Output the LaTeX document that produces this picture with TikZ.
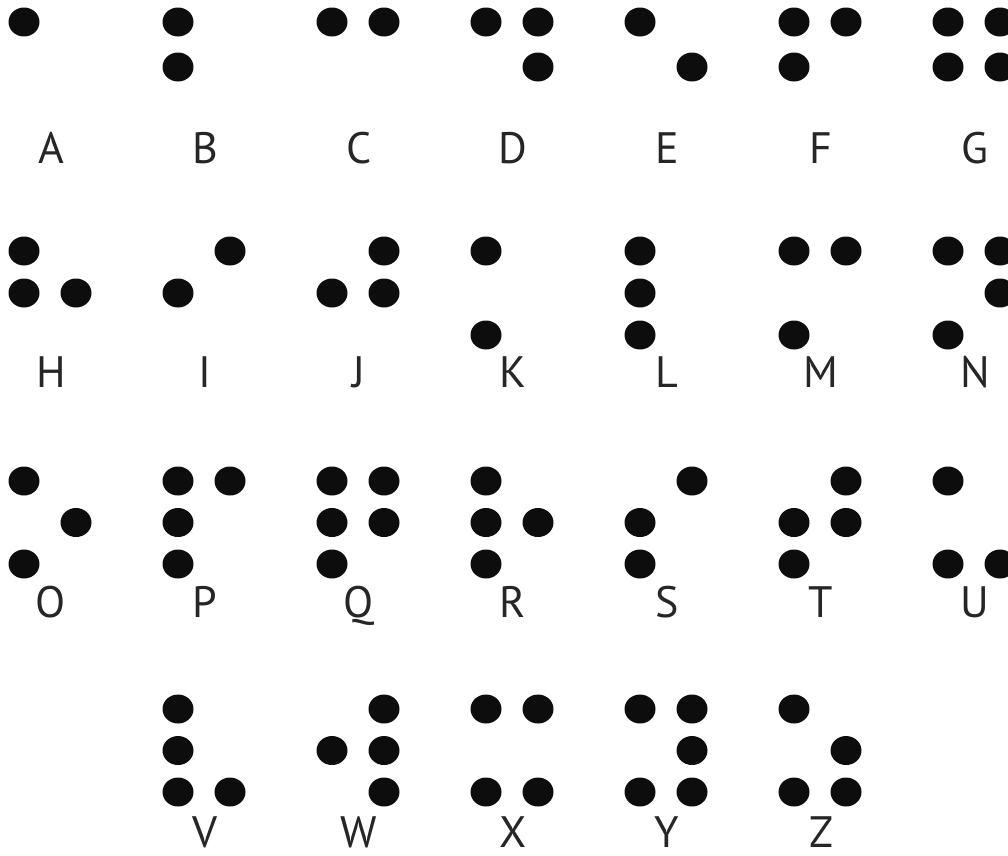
\documentclass[tikz,border=0pt]{standalone}
\usepackage{fontspec}
\setmainfont{PT Sans}
\tikzset{
  dotfill/.style={fill=black!95},
  letter/.style={font=\fontsize{44}{44}\selectfont, text=black!85, anchor=base, inner sep=0pt, text depth=0pt},
}
\begin{document}
\begin{tikzpicture}[x=1pt,y=-1pt]
\useasboundingbox (0,0) rectangle (1008,855);
\clip (0,0) rectangle (1008,855);
\foreach \L/\c/\r/\ds in {
  A/0/0/{1}, B/1/0/{1,2}, C/2/0/{1,4}, D/3/0/{1,4,5}, E/4/0/{1,5}, F/5/0/{1,2,4}, G/6/0/{1,2,4,5},
  H/0/1/{1,2,5}, I/1/1/{2,4}, J/2/1/{2,4,5}, K/3/1/{1,3}, L/4/1/{1,2,3}, M/5/1/{1,3,4}, N/6/1/{1,3,4,5},
  O/0/2/{1,3,5}, P/1/2/{1,2,3,4}, Q/2/2/{1,2,3,4,5}, R/3/2/{1,2,3,5}, S/4/2/{2,3,4}, T/5/2/{2,3,4,5}, U/6/2/{1,3,6},
  V/1/3/{1,2,3,6}, W/2/3/{2,4,5,6}, X/3/3/{1,3,4,6}, Y/4/3/{1,3,4,5,6}, Z/5/3/{1,3,5,6}}{
  \pgfmathsetmacro\xl{24+154*\c}
  \pgfmathsetmacro\yt{{22,251,481,709}[\r]}
  \pgfmathsetmacro\mysp{{45,42,41.5,41.5}[\r]}
  \pgfmathsetmacro\yb{{163,387,617,847}[\r]}
  \node[letter] (\L) at (\xl+27,\yb) {\L};
  \foreach \dd in \ds {
    \pgfmathsetmacro\xx{\xl + (\dd>3 ? 52 : 0)}
    \pgfmathsetmacro\yy{\yt + \mysp*mod(\dd-1,3)}
    \fill[dotfill] (\xx,\yy) ellipse [x radius=15.5pt, y radius=14.5pt];
  }
}
\end{tikzpicture}
\end{document}
